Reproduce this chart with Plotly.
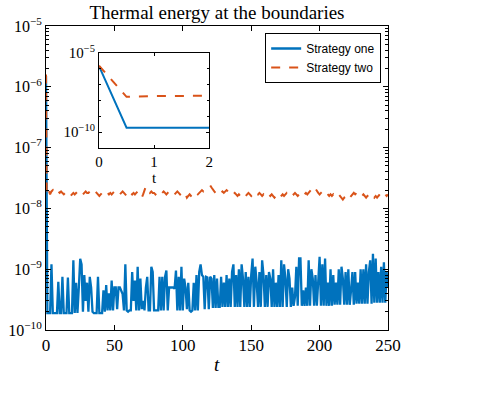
import plotly.graph_objects as go

# sample times
t = [0, 0.5] + list(range(1, 251))

# Strategy one, t = 1..250, in units of 1e-10
blue_e10 = [
    1.9, 1.9, 1.9, 12, 1.9, 1.9, 1.9, 1.9, 6.2, 1.9,
    1.9, 7.5, 1.9, 1.9, 1.9, 7.3, 1.9, 1.9, 1.9, 14,
    1.9, 6, 1.9, 5, 14.8, 12, 2, 8, 3, 6,
    2, 7.5, 5, 2, 1.9, 1.9, 1.9, 7.5, 1.9, 1.9,
    1.9, 4.5, 2, 5.5, 2.1, 4, 2.1, 6.5, 2.1, 5,
    5, 2.2, 5, 5, 4.5, 3.9, 2.1, 12, 2.1, 2.0,
    2.1, 2.1, 9, 3, 6.5, 2.1, 11, 2.1, 7, 2.2,
    3, 2.1, 5, 7.5, 2.1, 2.1, 11, 9, 2.1, 2.1,
    2.1, 2.1, 7.5, 2.1, 7.5, 2.1, 7.5, 9.5, 2.1, 5,
    5, 5, 5, 4.8, 9.5, 2.1, 7.5, 2.1, 11, 2.1,
    7, 5, 2.2, 6, 2.1, 2.0, 2.1, 6, 2.1, 8,
    2.1, 9, 12, 8, 7.5, 2.2, 7.5, 7.3, 2.2, 7.5,
    7, 2.3, 8, 2.3, 7, 2.4, 2.4, 7.5, 2.4, 6,
    2.4, 8, 2.4, 7, 2.4, 9, 12, 2.4, 8, 2.4,
    10, 2.4, 12, 7, 2.4, 9, 2.4, 7.5, 2.4, 8,
    15, 2.4, 11, 6, 2.4, 9, 2.4, 14, 8, 2.4,
    8, 2.4, 9, 7, 2.4, 10, 2.4, 6, 2.4, 8,
    2.4, 14, 2.4, 12, 7, 2.4, 10, 7, 2.4, 5,
    2.5, 3.5, 11, 2.5, 15, 15, 2.5, 4.5, 2.5, 5,
    2.5, 14, 2.5, 10, 7, 2.5, 8, 2.5, 6, 16,
    2.5, 12, 2.5, 15, 2.5, 6, 2.5, 10, 2.5, 8,
    2.6, 6, 2.6, 10, 2.6, 11, 7, 2.6, 9, 2.6,
    10, 2.6, 4.5, 9, 2.6, 9, 2.7, 6, 2.7, 10,
    2.7, 10, 2.7, 12, 2.7, 9, 14, 2.7, 18, 2.8,
    15, 2.8, 9, 2.8, 11, 2.8, 13, 2.8, 9, 5,
]

# Strategy two, t = 1..250, in units of 1e-8
orange_e8 = [
    1.9, 2.0, 1.7, 1.9, 2.0, 1.8, 1.9, 2.0, 1.9, 1.8,
    1.9, 1.8, 1.7, 1.8, 1.9, 1.8, 1.7, 1.6, 1.7, 1.8,
    1.7, 1.8, 1.7, 1.8, 1.9, 1.8, 1.7, 1.8, 1.9, 1.8,
    1.8, 1.9, 1.8, 1.7, 1.8, 1.9, 1.8, 1.7, 1.6, 1.7,
    1.8, 1.7, 1.8, 1.9, 1.8, 1.7, 1.8, 1.7, 1.8, 1.9,
    1.8, 1.9, 1.8, 1.7, 1.8, 1.9, 1.8, 1.7, 1.6, 1.8,
    1.9, 1.8, 1.7, 1.8, 1.7, 1.8, 1.9, 1.7, 1.6, 1.5,
    1.7, 2.0, 2.3, 2.1, 1.9, 1.8, 1.9, 1.8, 1.8, 1.7,
    1.8, 1.7, 1.8, 1.7, 1.8, 1.9, 1.8, 1.7, 1.8, 1.9,
    2.0, 1.9, 1.8, 1.7, 1.8, 1.9, 1.8, 1.7, 1.8, 1.7,
    1.6, 1.7, 1.5, 1.6, 1.7, 1.6, 1.5, 1.6, 1.7, 1.8,
    1.7, 1.8, 1.9, 2.0, 1.9, 2.0, 2.1, 2.2, 2.3, 2.4,
    2.2, 2.0, 1.9, 1.8, 1.9, 1.8, 1.7, 1.8, 1.9, 1.8,
    1.9, 2.0, 1.9, 1.8, 1.7, 1.8, 1.7, 1.8, 1.7, 1.6,
    1.7, 1.6, 1.7, 1.8, 1.7, 1.6, 1.7, 1.8, 1.7, 1.6,
    1.7, 1.6, 1.7, 1.8, 1.7, 1.8, 1.7, 1.6, 1.7, 1.6,
    1.7, 1.6, 1.7, 1.6, 1.7, 1.6, 1.5, 1.6, 1.5, 1.6,
    1.5, 1.6, 1.7, 1.6, 1.7, 1.8, 1.7, 1.8, 1.9, 1.8,
    1.7, 1.8, 1.7, 1.6, 1.7, 1.6, 1.7, 1.6, 1.7, 1.8,
    1.7, 1.8, 1.9, 2.0, 2.2, 2.3, 2.1, 1.9, 1.8, 1.7,
    1.8, 1.7, 1.6, 1.7, 1.8, 1.7, 1.6, 1.7, 1.6, 1.7,
    1.6, 1.7, 1.8, 1.7, 1.6, 1.5, 1.4, 1.5, 1.4, 1.5,
    1.6, 1.5, 1.6, 1.7, 1.8, 1.7, 1.8, 1.9, 1.8, 1.7,
    1.6, 1.7, 1.6, 1.5, 1.6, 1.7, 1.8, 1.7, 1.6, 1.5,
    1.6, 1.5, 1.6, 1.7, 1.6, 1.5, 1.6, 1.7, 1.6, 1.7,
]

blue = [1.5e-6, 1.9e-10] + [v * 1e-10 for v in blue_e10]
orange = [1.6e-6, 1.7e-8] + [v * 1e-8 for v in orange_e8]

series_names = ["Strategy one", "Strategy two"]
x_ticks = [0, 50, 100, 150, 200, 250]
y_tickvals = [1e-10, 1e-9, 1e-8, 1e-7, 1e-6, 1e-5]
y_ticktext = ["10<sup>−10</sup>", "10<sup>−9</sup>", "10<sup>−8</sup>",
              "10<sup>−7</sup>", "10<sup>−6</sup>", "10<sup>−5</sup>"]
inset_xticks = [0, 1, 2]
inset_yvals = [1e-10, 1e-5]
inset_ytext = ["10<sup>−10</sup>", "10<sup>−5</sup>"]

BLUE = "#0072BD"
ORANGE = "#D95319"
SERIF = "Liberation Serif, DejaVu Serif, serif"
SANS = "Liberation Sans, Arial, sans-serif"

fig = go.Figure()
fig.add_trace(go.Scatter(x=t, y=blue, mode="lines", name=series_names[0],
                         line=dict(color=BLUE, width=2.3)))
fig.add_trace(go.Scatter(x=t, y=orange, mode="lines", name=series_names[1],
                         line=dict(color=ORANGE, width=2, dash="dash")))
fig.add_trace(go.Scatter(x=t, y=blue, mode="lines", showlegend=False,
                         xaxis="x2", yaxis="y2", line=dict(color=BLUE, width=2)))
fig.add_trace(go.Scatter(x=t, y=orange, mode="lines", showlegend=False,
                         xaxis="x2", yaxis="y2",
                         line=dict(color=ORANGE, width=2, dash="dash")))

axis_common = dict(showline=True, linecolor="black", linewidth=1, mirror="allticks",
                   ticks="inside", tickcolor="black", showgrid=False, zeroline=False,
                   automargin=False)

fig.update_layout(
    width=489, height=402,
    margin=dict(l=46, r=101, t=26, b=72),
    paper_bgcolor="white", plot_bgcolor="white",
    title=dict(text="Thermal energy at the boundaries", x=217 / 489, xanchor="center",
               y=1 - 12 / 402, yanchor="middle", yref="container",
               font=dict(family=SERIF, size=19, color="black")),
    xaxis=dict(range=[0, 250], tickvals=x_ticks, ticklen=5,
               tickfont=dict(family=SERIF, size=17, color="black"), **axis_common),
    yaxis=dict(type="log", range=[-10, -5], tickvals=y_tickvals, ticktext=y_ticktext,
               ticklen=5, tickfont=dict(family=SERIF, size=16, color="black"),
               minor=dict(ticks="inside", ticklen=3, tickcolor="black", dtick="D1"),
               **axis_common),
    xaxis2=dict(domain=[0.155, 0.477], anchor="y2", range=[0, 2], tickvals=inset_xticks,
                ticklen=3, tickfont=dict(family=SERIF, size=15, color="black"),
                **axis_common),
    yaxis2=dict(domain=[0.599, 0.911], anchor="x2", type="log", range=[-11, -5],
                tickvals=inset_yvals, ticktext=inset_ytext, ticklen=3,
                minor=dict(ticks="inside", ticklen=2, tickcolor="black", dtick=1),
                tickfont=dict(family=SERIF, size=15, color="black"), **axis_common),
    legend=dict(x=0.98, y=0.977, xanchor="right", yanchor="top",
                bgcolor="white", bordercolor="black", borderwidth=1,
                font=dict(family=SANS, size=12, color="black"),
                tracegroupgap=0, itemwidth=30),
    showlegend=True,
    annotations=[
        dict(text="<i>t</i>", x=0.5, y=-0.115, xref="paper", yref="paper",
             showarrow=False, font=dict(family=SERIF, size=19, color="black"),
             xanchor="center", yanchor="middle"),
        dict(text="t", x=0.316, y=0.5, xref="paper", yref="paper",
             showarrow=False, font=dict(family=SERIF, size=15, color="black"),
             xanchor="center", yanchor="middle"),
    ],
)

fig.write_html("out.html")
